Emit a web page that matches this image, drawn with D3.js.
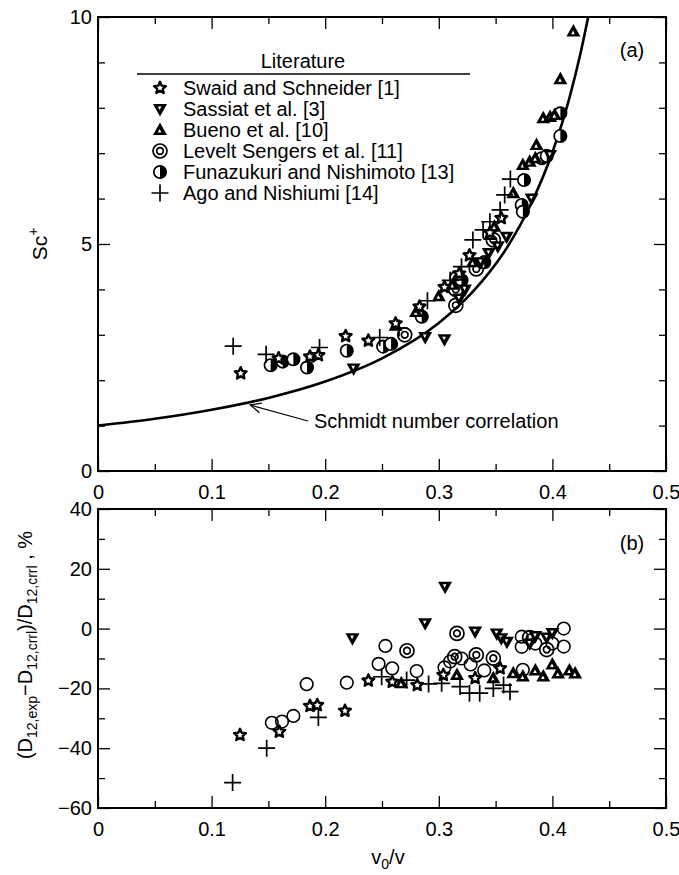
<!DOCTYPE html>
<html>
<head>
<meta charset="utf-8">
<script src="https://cdn.jsdelivr.net/npm/d3@7"></script>
<style>
  body { margin: 0; background: #fff; }
  svg { font-family: "Liberation Sans", Arial, sans-serif; }
</style>
</head>
<body>
<div id="chart"></div>
<script>
// ---- data ----
const xMajor = [0, 0.1, 0.2, 0.3, 0.4, 0.5];
const yMajorA = [0, 5, 10];
const yMajorB = [-60, -40, -20, 0, 20, 40];
const legendNames = ["Swaid and Schneider [1]", "Sassiat et al. [3]", "Bueno et al. [10]",
                     "Levelt Sengers et al. [11]", "Funazukuri and Nishimoto [13]", "Ago and Nishiumi [14]"];

// Schmidt number correlation
const corrLine = [[0, 1], [0.05, 1.15], [0.1, 1.35], [0.15, 1.61], [0.2, 1.97], [0.25, 2.48],
                  [0.3, 3.26], [0.33, 3.95], [0.36, 4.92], [0.38, 5.82], [0.4, 7.02],
                  [0.415, 8.22], [0.425, 9.23], [0.4315, 10.0]];

// (a) Sc+
const swaidA = [[0.1256, 2.15], [0.159, 2.48], [0.1866, 2.52], [0.194, 2.55], [0.218, 2.97], [0.238, 2.87],
                [0.262, 3.25], [0.283, 3.62], [0.305, 4.05], [0.318, 4.35], [0.327, 4.75], [0.345, 5.25], [0.355, 5.57]];
const sassiatA = [[0.225, 2.26], [0.288, 2.95], [0.305, 2.9], [0.318, 3.8], [0.323, 4.0], [0.337, 4.6],
                  [0.344, 4.8], [0.352, 4.95], [0.3597, 5.16], [0.3817, 6.0], [0.398, 6.96]];
const buenoA = [[0.262, 3.2], [0.28, 3.5], [0.3, 3.85], [0.312, 4.1], [0.318, 4.3], [0.33, 4.6], [0.345, 5.2],
                [0.349, 5.38], [0.3656, 6.12], [0.374, 6.74], [0.38, 6.81], [0.385, 6.89], [0.386, 7.18],
                [0.392, 7.77], [0.398, 7.8], [0.402, 7.84], [0.407, 8.63], [0.4185, 9.68]];
const leveltA = [[0.27, 3.0], [0.315, 3.65], [0.315, 4.0], [0.316, 4.25], [0.333, 4.45], [0.348, 5.09]];
const funazukuriA = [[0.152, 2.33], [0.1626, 2.41], [0.172, 2.46], [0.184, 2.28], [0.219, 2.65], [0.251, 2.74],
                     [0.258, 2.8], [0.285, 3.4], [0.32, 4.2], [0.34, 4.6], [0.373, 5.86], [0.374, 5.71],
                     [0.375, 6.41], [0.3906, 6.89], [0.395, 6.94], [0.407, 7.38], [0.407, 7.88]];
const agoA = [[0.119, 2.75], [0.148, 2.57], [0.195, 2.72], [0.248, 2.94], [0.265, 3.15], [0.29, 3.75],
              [0.31, 4.2], [0.32, 4.5], [0.33, 5.09], [0.339, 5.31], [0.345, 5.49], [0.354, 5.75],
              [0.358, 6.08], [0.363, 6.43]];

// (b) deviation, %
const swaidB = [[0.125, -35.6], [0.1596, -34.5], [0.1866, -25.9], [0.193, -25.6], [0.2174, -27.5], [0.238, -17.4],
                [0.259, -17.8], [0.281, -18.9], [0.304, -15.5], [0.332, -16.6], [0.354, -13.3]];
const sassiatB = [[0.224, -3.2], [0.288, 1.77], [0.3055, 14.0], [0.332, -1.0], [0.351, -1.6], [0.355, -3.2],
                  [0.36, -4.4], [0.38, -5], [0.385, -2.5], [0.395, -3], [0.4, -1.5]];
const buenoB = [[0.267, -18.3], [0.316, -15.5], [0.348, -16.6], [0.3656, -14.9], [0.374, -16.0], [0.385, -14],
                [0.392, -16], [0.4, -12], [0.405, -15], [0.415, -14], [0.42, -15]];
const leveltB = [[0.272, -7.4], [0.316, -1.6], [0.314, -9.4], [0.333, -8.8], [0.348, -9.9], [0.38, -3], [0.395, -7]];
const openB = [[0.153, -31.5], [0.162, -31.1], [0.172, -29.2], [0.1837, -18.6], [0.219, -18.1], [0.247, -11.8],
               [0.253, -5.8], [0.259, -13.3], [0.2805, -14.2], [0.305, -13], [0.31, -11], [0.32, -10],
               [0.328, -12], [0.34, -14], [0.373, -2.7], [0.373, -6.1], [0.374, -13.8], [0.385, -5],
               [0.4, -5], [0.41, 0], [0.41, -6]];
const agoB = [[0.1185, -51.5], [0.1485, -40], [0.194, -29.7], [0.2497, -16.1], [0.2717, -17.2], [0.291, -18.5],
              [0.3025, -18.3], [0.3187, -19.4], [0.327, -21.6], [0.336, -21.6], [0.348, -20], [0.357, -18.9],
              [0.3627, -21.1]];

// ---- layout ----
const width = 679, height = 875;
const left = 98, right = 666;

const svg = d3.select("#chart").append("svg")
    .attr("width", width)
    .attr("height", height)
    .attr("viewBox", [0, 0, width, height]);

const x = d3.scaleLinear().domain([0, 0.5]).range([left, right]);
const yA = d3.scaleLinear().domain([0, 10]).range([471, 17]);
const yB = d3.scaleLinear().domain([-60, 40]).range([808, 509]);

const xMinor = d3.range(0.05, 0.5, 0.1);

function frame(y, minorY, majorY, labelsY) {
    const [y0, y1] = y.range();
    // bottom
    svg.append("g").attr("transform", `translate(0,${y0})`)
        .call(d3.axisBottom(x).tickValues(xMajor).tickSize(-12).tickPadding(14).tickFormat(d3.format("~g")));
    svg.append("g").attr("transform", `translate(0,${y0})`)
        .call(d3.axisBottom(x).tickValues(xMinor).tickSize(-7).tickFormat(""));
    // top
    svg.append("g").attr("transform", `translate(0,${y1})`)
        .call(d3.axisTop(x).tickValues(xMajor).tickSize(-12).tickFormat(""));
    svg.append("g").attr("transform", `translate(0,${y1})`)
        .call(d3.axisTop(x).tickValues(xMinor).tickSize(-7).tickFormat(""));
    // left
    svg.append("g").attr("transform", `translate(${left},0)`)
        .call(d3.axisLeft(y).tickValues(majorY).tickSize(-12).tickPadding(6)
            .tickFormat(d => labelsY.includes(d) ? d3.format("~g")(d) : ""));
    svg.append("g").attr("transform", `translate(${left},0)`)
        .call(d3.axisLeft(y).tickValues(minorY).tickSize(-7).tickFormat(""));
    // right
    svg.append("g").attr("transform", `translate(${right},0)`)
        .call(d3.axisRight(y).tickValues(majorY).tickSize(-12).tickFormat(""));
    svg.append("g").attr("transform", `translate(${right},0)`)
        .call(d3.axisRight(y).tickValues(minorY).tickSize(-7).tickFormat(""));

    svg.append("rect")
        .attr("x", left).attr("y", y1)
        .attr("width", right - left).attr("height", y0 - y1)
        .attr("fill", "none").attr("stroke", "#000").attr("stroke-width", 2);
}

frame(yA, [1, 2, 3, 4, 6, 7, 8, 9], yMajorA, yMajorA);
frame(yB, [-50, -30, -10, 10, 30], yMajorB, yMajorB);

svg.selectAll(".domain").remove();
svg.selectAll(".tick line").attr("stroke", "#000").attr("stroke-width", 1.3);
svg.selectAll(".tick text").attr("font-size", 20).attr("fill", "#000")
    .attr("font-family", "'Liberation Sans', Arial, sans-serif");

// ---- markers ----
function starPath(r) {
    const pts = [];
    for (let i = 0; i < 10; i++) {
        const a = -Math.PI / 2 + i * Math.PI / 5;
        const rr = i % 2 ? r * 0.47 : r;
        pts.push([rr * Math.cos(a), rr * Math.sin(a)]);
    }
    return "M" + pts.join("L") + "Z";
}

const marker = {
    star: g => g.append("path").attr("d", starPath(6.2))
        .attr("fill", "#fff").attr("stroke", "#000").attr("stroke-width", 2.4).attr("stroke-linejoin", "round"),
    down: g => {
        g.append("path").attr("d", "M-7,-5L7,-5L0,7.5Z").attr("fill", "#000");
        g.append("path").attr("d", "M-2.2,-2.6L1.4,-2.6L-0.4,1Z").attr("fill", "#fff");
    },
    up: g => {
        g.append("path").attr("d", "M-7,5L7,5L0,-7.5Z").attr("fill", "#000");
        g.append("path").attr("d", "M-2.2,2.6L1.4,2.6L-0.4,-1Z").attr("fill", "#fff");
    },
    dbl: g => {
        g.append("circle").attr("r", 7).attr("fill", "none").attr("stroke", "#000").attr("stroke-width", 1.7);
        g.append("circle").attr("r", 3.3).attr("fill", "none").attr("stroke", "#000").attr("stroke-width", 1.7);
    },
    half: g => {
        g.append("circle").attr("r", 6.2).attr("fill", "#fff").attr("stroke", "#000").attr("stroke-width", 1.7);
        g.append("path").attr("d", "M0,-6.2A6.2,6.2 0 0 1 0,6.2Z").attr("fill", "#000");
    },
    plus: g => g.append("path").attr("d", "M-8.5,0H8.5M0,-8.5V8.5")
        .attr("stroke", "#000").attr("stroke-width", 1.7),
    open: g => g.append("circle").attr("r", 6.3).attr("fill", "none").attr("stroke", "#000").attr("stroke-width", 1.6)
};

function plot(data, y, kind) {
    svg.append("g").selectAll("g")
        .data(data)
        .join("g")
        .attr("transform", d => `translate(${x(d[0])},${y(d[1])})`)
        .each(function () { marker[kind](d3.select(this)); });
}

// correlation line
svg.append("path")
    .datum(corrLine)
    .attr("fill", "none")
    .attr("stroke", "#000")
    .attr("stroke-width", 2.6)
    .attr("d", d3.line().x(d => x(d[0])).y(d => yA(d[1])).curve(d3.curveMonotoneX));

plot(leveltA, yA, "dbl");
plot(funazukuriA, yA, "half");
plot(sassiatA, yA, "down");
plot(buenoA, yA, "up");
plot(swaidA, yA, "star");
plot(agoA, yA, "plus");

plot(openB, yB, "open");
plot(leveltB, yB, "dbl");
plot(sassiatB, yB, "down");
plot(buenoB, yB, "up");
plot(swaidB, yB, "star");
plot(agoB, yB, "plus");

// ---- legend ----
const legend = svg.append("g");
legend.append("text").attr("x", 303).attr("y", 68).attr("text-anchor", "middle")
    .attr("font-size", 20).text("Literature");
legend.append("line").attr("x1", 137).attr("x2", 470).attr("y1", 74).attr("y2", 74)
    .attr("stroke", "#000").attr("stroke-width", 1.3);
const kinds = ["star", "down", "up", "dbl", "half", "plus"];
legendNames.forEach((name, i) => {
    const yy = 88 + i * 21;
    const g = legend.append("g").attr("transform", `translate(160,${yy})`);
    marker[kinds[i]](g);
    legend.append("text").attr("x", 183).attr("y", yy + 7).attr("font-size", 20).text(name);
});

// annotation
svg.append("defs").append("marker")
    .attr("id", "arr").attr("viewBox", "0 0 12 12").attr("refX", 11).attr("refY", 6)
    .attr("markerWidth", 12).attr("markerHeight", 12).attr("markerUnits", "userSpaceOnUse")
    .attr("orient", "auto")
    .append("path").attr("d", "M0,1L11,6L0,11").attr("fill", "none").attr("stroke", "#000").attr("stroke-width", 1.2);
svg.append("line")
    .attr("x1", 308).attr("y1", 421).attr("x2", x(0.134)).attr("y2", yA(1.52) + 3)
    .attr("stroke", "#000").attr("stroke-width", 1.2).attr("marker-end", "url(#arr)");
svg.append("text").attr("x", 314).attr("y", 428).attr("font-size", 20).text("Schmidt number correlation");

svg.append("text").attr("x", 632).attr("y", 57).attr("text-anchor", "middle").attr("font-size", 20).text("(a)");
svg.append("text").attr("x", 632).attr("y", 550).attr("text-anchor", "middle").attr("font-size", 20).text("(b)");

// axis titles
const scLab = svg.append("text").attr("transform", "translate(47,244) rotate(-90)")
    .attr("text-anchor", "middle").attr("font-size", 21);
scLab.append("tspan").text("Sc");
scLab.append("tspan").attr("font-size", 14).attr("dy", -9).text("+");

const devLab = svg.append("text").attr("transform", "translate(32,645) rotate(-90)")
    .attr("text-anchor", "middle").attr("font-size", 20);
const parts = [["(D", 0], ["12,exp", 1], ["−D", 0], ["12,crrl", 1], [")/D", 0], ["12,crrl", 1], [" , %", 0]];
let sub = false;
parts.forEach(([t, s]) => {
    const ts = devLab.append("tspan").text(t);
    if (s && !sub) { ts.attr("font-size", 14).attr("dy", 5); sub = true; }
    else if (!s && sub) { ts.attr("dy", -5); sub = false; }
});

const xt = svg.append("text").attr("x", 388).attr("y", 864).attr("text-anchor", "middle").attr("font-size", 20);
xt.append("tspan").text("v");
xt.append("tspan").attr("font-size", 14).attr("dy", 5).text("0");
xt.append("tspan").attr("dy", -5).text("/v");
</script>
</body>
</html>
